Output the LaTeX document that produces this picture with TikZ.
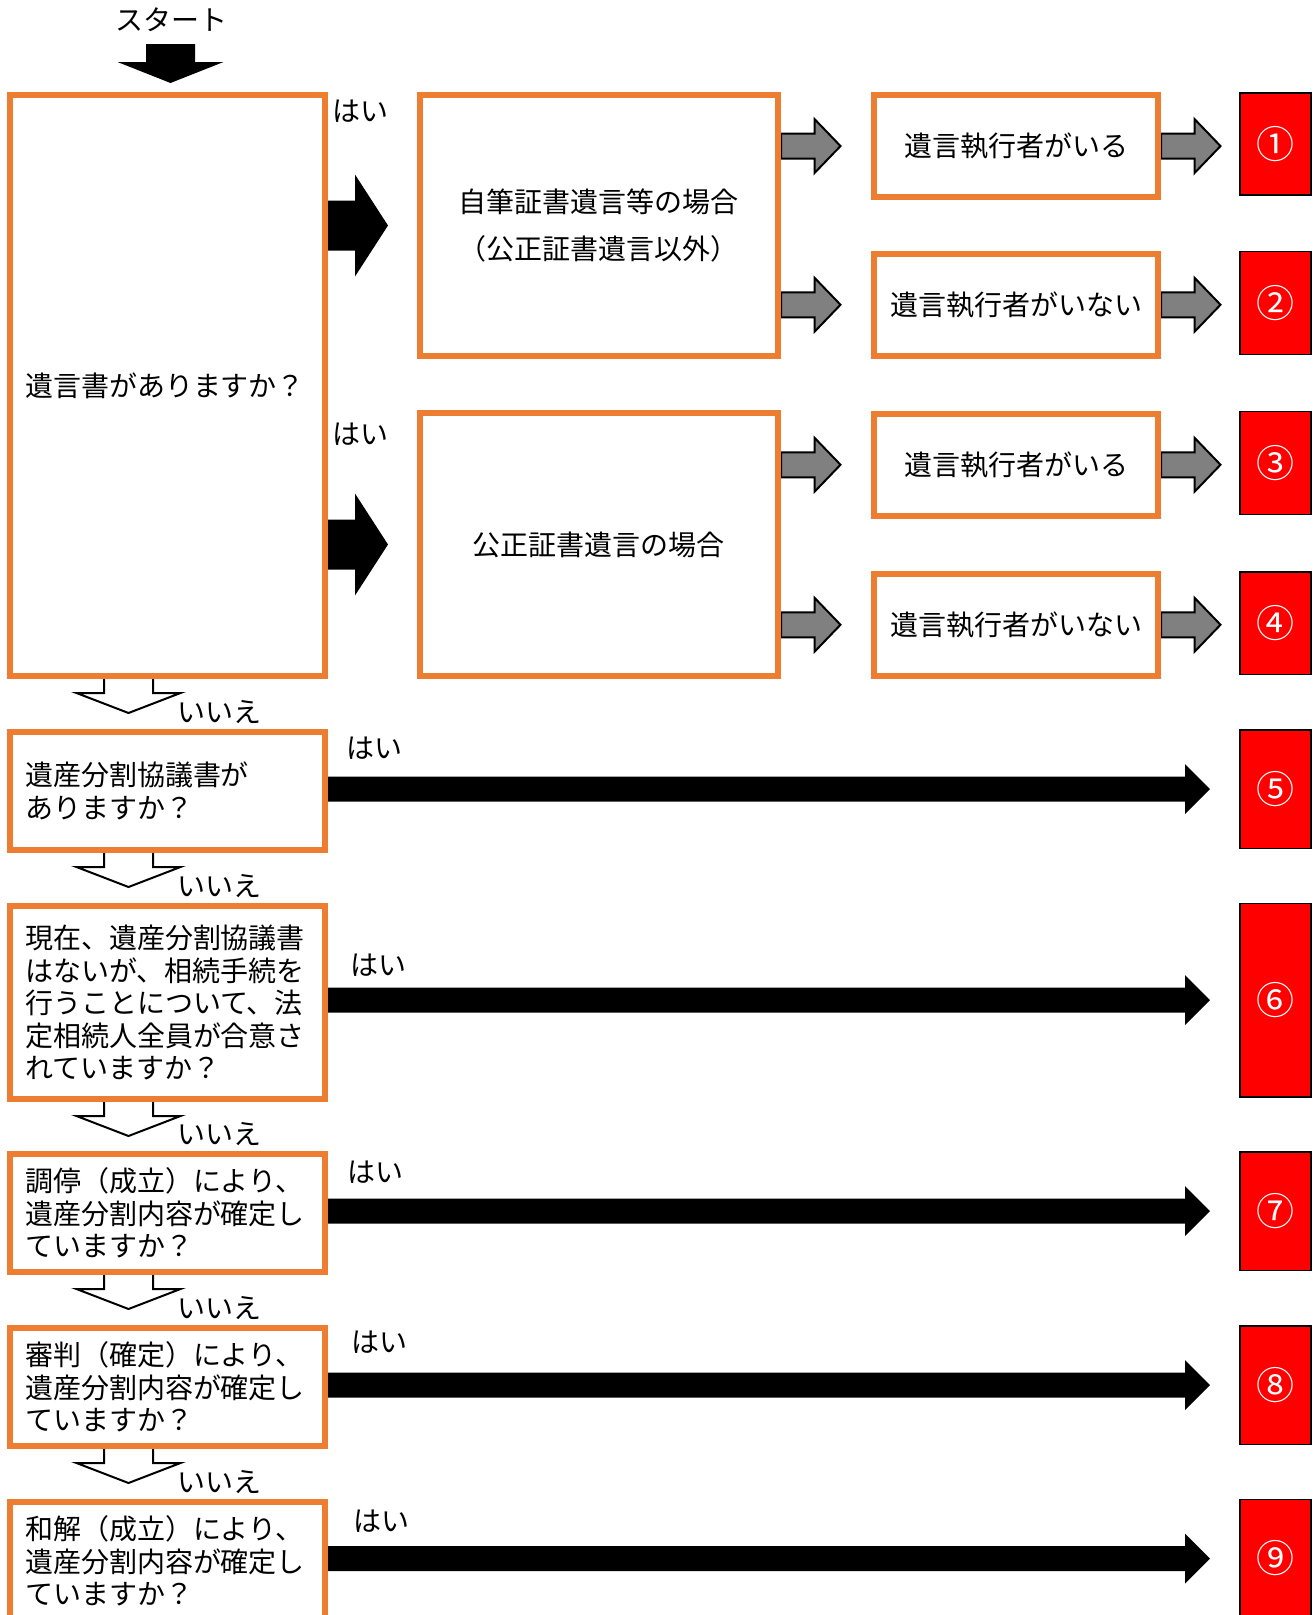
\documentclass[tikz,border=0pt]{standalone}
\usepackage{fontspec}
\setmainfont{Noto Sans CJK JP}
\usetikzlibrary{calc}
\definecolor{boxorange}{RGB}{237,125,49}
\definecolor{arrowgray}{RGB}{128,128,128}
\definecolor{resultred}{RGB}{255,0,0}
\pgfdeclarelayer{bg}
\pgfsetlayers{bg,main}
% #1 style, #2 start, #3 tip, #4 shaft half, #5 head half, #6 head length
\newcommand\blockarrow[6]{%
  \path[#1] let \p1=#2, \p2=#3 in
    (\x1,\y1+#4) -- (\x2-#6,\y1+#4) -- (\x2-#6,\y1+#5) -- (\x2,\y1)
    -- (\x2-#6,\y1-#5) -- (\x2-#6,\y1-#4) -- (\x1,\y1-#4) -- cycle;}
% hollow down arrow, #1 top centre
\newcommand\hollowdown[1]{%
  \filldraw[hollowarrow] let \p1=#1 in
    (\x1-24.5pt,\y1) -- (\x1-24.5pt,\y1-14pt) -- (\x1-52pt,\y1-14pt)
    -- (\x1,\y1-34pt) -- (\x1+52pt,\y1-14pt) -- (\x1+24.5pt,\y1-14pt)
    -- (\x1+24.5pt,\y1);}
\begin{document}
\begin{tikzpicture}[x=1pt,y=-1pt,
  every node/.style={font=\fontsize{28}{32.5}\selectfont},
  qbox/.style={draw=boxorange, line width=6pt, fill=white, outer sep=3pt,
               inner sep=0pt, anchor=north west},
  leftq/.style={qbox, minimum width=315pt, align=left, text width=285pt,
                inner xsep=15pt},
  midbox/.style={qbox, minimum width=358.5pt, align=center},
  exbox/.style={qbox, minimum width=284pt, minimum height=101.5pt},
  resbox/.style={fill=resultred, draw=black, line width=1.5pt, outer sep=0.75pt,
                 inner sep=0pt, anchor=north west, minimum width=71pt,
                 text=white, font=\fontsize{38}{38}\selectfont},
  lbl/.style={inner sep=0pt},
  bigblack/.style={fill=black},
  grayarrow/.style={fill=arrowgray, draw=black, line width=2pt, line join=miter},
  hollowarrow/.style={fill=white, draw=black, line width=2pt, line join=miter},
]
\clip (0,0) rectangle (1315,1615);
\begin{pgfonlayer}{bg}
\fill[white] (0,0) rectangle (1315,1615);
\end{pgfonlayer}

% start
\node[lbl] (start) at (171,20) {スタート};
\coordinate (sa) at (170.5,44);

% left question boxes
\node[leftq, minimum height=581pt] (q1) at (7,92) {遺言書がありますか？};
\node[leftq, minimum height=118pt] (q2) at (7,729) {遺産分割協議書が\\ありますか？};
\node[leftq, minimum height=193pt] (q3) at (7,903)
  {現在、遺産分割協議書\\はないが、相続手続を\\行うことについて、法\\定相続人全員が合意さ\\れていますか？};
\node[leftq, minimum height=118pt] (q4) at (7,1151)
  {調停（成立）により、\\遺産分割内容が確定し\\ていますか？};
\node[leftq, minimum height=118pt] (q5) at (7,1325)
  {審判（確定）により、\\遺産分割内容が確定し\\ていますか？};
\node[leftq, minimum height=118pt] (q6) at (7,1499)
  {和解（成立）により、\\遺産分割内容が確定し\\ていますか？};

% middle boxes
\node[midbox, minimum height=261pt, font=\fontsize{28}{47.5}\selectfont] (b2) at (416.5,92)
  {自筆証書遺言等の場合\\（公正証書遺言以外）};
\node[midbox, minimum height=263pt] (b3) at (416.5,410) {公正証書遺言の場合};

% executor boxes
\node[exbox] (e1) at (871,92.3) {遺言執行者がいる};
\node[exbox] (e2) at (871,251) {遺言執行者がいない};
\node[exbox] (e3) at (871,411) {遺言執行者がいる};
\node[exbox] (e4) at (871,571) {遺言執行者がいない};

% result boxes
\node[resbox, minimum height=102pt] (r1) at (1239,92.3) {①};
\node[resbox, minimum height=103pt] (r2) at (1239,250.7) {②};
\node[resbox, minimum height=103pt] (r3) at (1239,410.7) {③};
\node[resbox, minimum height=102.5pt] (r4) at (1239,571) {④};
\node[resbox, minimum height=118.8pt] (r5) at (1239,729) {⑤};
\node[resbox, minimum height=193.5pt] (r6) at (1239,902.7) {⑥};
\node[resbox, minimum height=118.5pt] (r7) at (1239,1151) {⑦};
\node[resbox, minimum height=118.5pt] (r8) at (1239,1325) {⑧};
\node[resbox, minimum height=118.5pt] (r9) at (1239,1498.5) {⑨};

% labels
\node[lbl] (y1) at (360,111) {はい};
\node[lbl] (y2) at (360,434) {はい};
\node[lbl] (y3) at (374,748) {はい};
\node[lbl] (y4) at (378,965) {はい};
\node[lbl] (y5) at (375,1172) {はい};
\node[lbl] (y6) at (379,1342) {はい};
\node[lbl] (y7) at (381,1521) {はい};
\node[lbl] (n1) at (219,712) {いいえ};
\node[lbl] (n2) at (219,886) {いいえ};
\node[lbl] (n3) at (219,1134) {いいえ};
\node[lbl] (n4) at (219,1308) {いいえ};
\node[lbl] (n5) at (219,1482) {いいえ};

\begin{pgfonlayer}{bg}
% start arrow
\fill let \p1=(sa) in (\x1-24.5pt,\y1) -- (\x1+24.5pt,\y1) -- (\x1+24.5pt,\y1-18pt)
  -- (\x1+53pt,\y1-18pt) -- (\x1,\y1-39pt) -- (\x1-53pt,\y1-18pt)
  -- (\x1-24.5pt,\y1-18pt) -- cycle;
% big black yes arrows
\blockarrow{bigblack}{(q1.east |- b2.west)}{($(b2.west)+(-28.5,0)$)}{25pt}{51pt}{33pt}
\blockarrow{bigblack}{(q1.east |- b3.west)}{($(b3.west)+(-28.5,0)$)}{25pt}{51pt}{33pt}
% gray arrows
\blockarrow{grayarrow}{(b2.east |- e1.west)}{($(e1.west)+(-30.5,0)$)}{12.5pt}{27pt}{26pt}
\blockarrow{grayarrow}{(b2.east |- e2.west)}{($(e2.west)+(-30.5,0)$)}{12.5pt}{27pt}{26pt}
\blockarrow{grayarrow}{(b3.east |- e3.west)}{($(e3.west)+(-30.5,0)$)}{12.5pt}{27pt}{26pt}
\blockarrow{grayarrow}{(b3.east |- e4.west)}{($(e4.west)+(-30.5,0)$)}{12.5pt}{27pt}{26pt}
\blockarrow{grayarrow}{(e1.east)}{($(r1.west |- e1.east)+(-18.5,0)$)}{12.5pt}{27pt}{26pt}
\blockarrow{grayarrow}{(e2.east)}{($(r2.west |- e2.east)+(-18.5,0)$)}{12.5pt}{27pt}{26pt}
\blockarrow{grayarrow}{(e3.east)}{($(r3.west |- e3.east)+(-18.5,0)$)}{12.5pt}{27pt}{26pt}
\blockarrow{grayarrow}{(e4.east)}{($(r4.west |- e4.east)+(-18.5,0)$)}{12.5pt}{27pt}{26pt}
% long black arrows
\blockarrow{bigblack}{(q2.east |- r5.west)}{($(r5.west)+(-29,0)$)}{12.5pt}{25pt}{25pt}
\blockarrow{bigblack}{(q3.east |- r6.west)}{($(r6.west)+(-29,0)$)}{12.5pt}{25pt}{25pt}
\blockarrow{bigblack}{(q4.east |- r7.west)}{($(r7.west)+(-29,0)$)}{12.5pt}{25pt}{25pt}
\blockarrow{bigblack}{(q5.east |- r8.west)}{($(r8.west)+(-29,0)$)}{12.5pt}{25pt}{25pt}
\blockarrow{bigblack}{(q6.east |- r9.west)}{($(r9.west)+(-29,0)$)}{12.5pt}{25pt}{25pt}
% hollow no arrows
\hollowdown{($(q1.south)+(-39,0)$)}
\hollowdown{($(q2.south)+(-39,0)$)}
\hollowdown{($(q3.south)+(-39,0)$)}
\hollowdown{($(q4.south)+(-39,0)$)}
\hollowdown{($(q5.south)+(-39,0)$)}
\end{pgfonlayer}
\end{tikzpicture}
\end{document}
